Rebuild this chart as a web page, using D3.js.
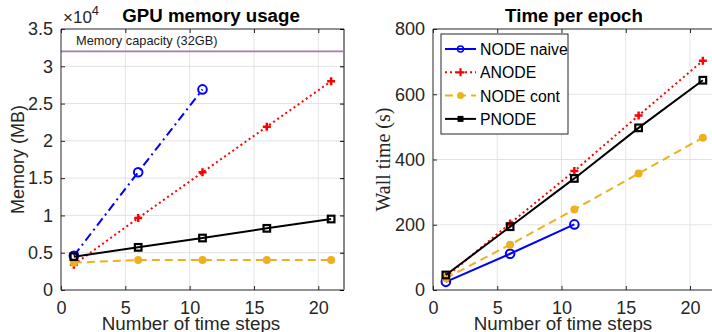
<!DOCTYPE html>
<html><head><meta charset="utf-8">
<script src="https://cdn.jsdelivr.net/npm/d3@7"></script>
<style>body{margin:0;background:#fff}svg{display:block}</style>
</head><body>
<svg id="c" width="712" height="332"></svg>
<script>
const steps = [1, 6, 11, 16, 21];
const seriesNames = ["NODE naive", "ANODE", "NODE cont", "PNODE"];
// Memory (MB)
const memNaive = [4600, 15800, 26900];
const memAnode = [3400, 9650, 15780, 21900, 28000];
const memCont  = [3660, 4020, 4020, 4020, 4020];
const memPnode = [4470, 5720, 6970, 8270, 9520];
const memCapacity = 32000;
// Wall time (s)
const timeNaive = [25, 111, 201];
const timeAnode = [40, 204, 365, 535, 703];
const timeCont  = [36, 139, 247, 357, 467];
const timePnode = [46, 194, 342, 497, 643];
const xTicks = [0, 5, 10, 15, 20];
const memTicks = [0, 5000, 10000, 15000, 20000, 25000, 30000, 35000];
const memTickLabels = ["0", "0.5", "1", "1.5", "2", "2.5", "3", "3.5"];
const timeTicks = [0, 200, 400, 600, 800];

const svg = d3.select("#c");
const font = "'Liberation Sans', Arial, Helvetica, sans-serif";
const colors = {naive: "#0000ff", anode: "#ff0000", cont: "#EDB120", pnode: "#000000"};

function drawMarker(g, type, x, y, color) {
  if (type === "circle") {
    g.append("circle").attr("cx", x).attr("cy", y).attr("r", 4.3)
      .attr("fill", "none").attr("stroke", color).attr("stroke-width", 2);
  } else if (type === "dot") {
    g.append("circle").attr("cx", x).attr("cy", y).attr("r", 4)
      .attr("fill", color).attr("stroke", "none");
  } else if (type === "plus") {
    g.append("path").attr("d", `M${x-4},${y}H${x+4}M${x},${y-4}V${y+4}`)
      .attr("stroke", color).attr("stroke-width", 2.5).attr("fill", "none");
  } else if (type === "square") {
    g.append("rect").attr("x", x-3.3).attr("y", y-3.3).attr("width", 6.6).attr("height", 6.6)
      .attr("fill", "none").attr("stroke", color).attr("stroke-width", 2.2);
  }
}

function panel(opts) {
  const {x0, x1, y0, y1, yDomain, yTicks, yLabels, series, title, titleX, ylabel, ylabelX, ylabelFont, ylabelSize, clipRight} = opts;
  const x = d3.scaleLinear().domain([0, 22]).range([x0, x1]);
  const y = d3.scaleLinear().domain(yDomain).range([y1, y0]);
  const g = svg.append("g");
  // grid
  g.selectAll(".gx").data(xTicks.filter(t => t > 0)).join("line")
    .attr("x1", d => x(d)).attr("x2", d => x(d)).attr("y1", y0).attr("y2", y1)
    .attr("stroke", "#e3e3e3").attr("stroke-width", 1);
  g.selectAll(".gy").data(yTicks.filter(t => t > yDomain[0] && t < yDomain[1])).join("line")
    .attr("x1", x0).attr("x2", x1).attr("y1", d => y(d)).attr("y2", d => y(d))
    .attr("stroke", "#e3e3e3").attr("stroke-width", 1);
  if (opts.extra) opts.extra(g, x, y);
  // series
  const clipId = "clip" + x0;
  svg.append("clipPath").attr("id", clipId).append("rect")
    .attr("x", x0 - 10).attr("y", y0 - 10).attr("width", x1 - x0 + 20).attr("height", y1 - y0 + 20);
  const sg = g.append("g").attr("clip-path", `url(#${clipId})`);
  series.forEach(s => {
    const pts = s.values.map((v, i) => [x(steps[i]), y(v)]);
    sg.append("path").attr("d", d3.line()(pts)).attr("fill", "none")
      .attr("stroke", s.color).attr("stroke-width", s.width || 2)
      .attr("stroke-dasharray", s.dash || null);
    pts.forEach(p => drawMarker(sg, s.marker, p[0], p[1], s.color));
  });
  // box
  g.append("line").attr("x1", x0).attr("x2", x1).attr("y1", y0).attr("y2", y0).attr("stroke", "#262626").attr("stroke-width", 1);
  g.append("line").attr("x1", x0).attr("x2", x1).attr("y1", y1).attr("y2", y1).attr("stroke", "#262626").attr("stroke-width", 1);
  g.append("line").attr("x1", x0).attr("x2", x0).attr("y1", y0).attr("y2", y1).attr("stroke", "#262626").attr("stroke-width", 1);
  if (!clipRight) g.append("line").attr("x1", x1).attr("x2", x1).attr("y1", y0).attr("y2", y1).attr("stroke", "#888").attr("stroke-width", 2);
  // axes with d3
  const xa = g.append("g").attr("transform", `translate(0,${y1})`)
    .call(d3.axisBottom(x).tickValues(xTicks).tickSize(-4).tickPadding(11));
  xa.select(".domain").remove();
  const xat = g.append("g").attr("transform", `translate(0,${y0})`)
    .call(d3.axisTop(x).tickValues(xTicks).tickSize(-4).tickFormat(""));
  xat.select(".domain").remove();
  const ya = g.append("g").attr("transform", `translate(${x0},0)`)
    .call(d3.axisLeft(y).tickValues(yTicks).tickSize(-4).tickPadding(8)
      .tickFormat((d, i) => yLabels ? yLabels[i] : d));
  ya.select(".domain").remove();
  if (!clipRight) {
    const yr = g.append("g").attr("transform", `translate(${x1},0)`)
      .call(d3.axisRight(y).tickValues(yTicks).tickSize(-4).tickFormat(""));
    yr.select(".domain").remove();
  }
  [xa, xat, ya].forEach(a => {
    a.selectAll("line").attr("stroke", "#262626");
    a.selectAll("text").attr("font-family", font).attr("font-size", 18).attr("fill", "#262626");
  });
  // title
  g.append("text").attr("x", titleX).attr("y", 22).attr("text-anchor", "middle")
    .attr("font-family", font).attr("font-weight", "bold").attr("font-size", 18.7).attr("fill", "#000").text(title);
  // x label
  g.append("text").attr("x", x0 + 130).attr("y", 330).attr("text-anchor", "middle")
    .attr("font-family", font).attr("font-size", 18.8).attr("fill", "#262626").text("Number of time steps");
  // y label
  g.append("text").attr("transform", `translate(${ylabelX},${(y0 + y1) / 2}) rotate(-90)`)
    .attr("text-anchor", "middle").attr("font-family", ylabelFont).attr("font-size", ylabelSize).attr("fill", "#262626").text(ylabel);
  return {g, x, y};
}

const left = panel({
  x0: 61, x1: 344, y0: 29, y1: 290, yDomain: [0, 35000], yTicks: memTicks, yLabels: memTickLabels,
  title: "GPU memory usage", titleX: 211, ylabel: "Memory (MB)", ylabelX: 24, ylabelFont: font, ylabelSize: 18,
  extra: (g, x, y) => {
    g.append("line").attr("x1", x(0)).attr("x2", x(22)).attr("y1", y(memCapacity)).attr("y2", y(memCapacity))
      .attr("stroke", "#a678bb").attr("stroke-width", 1.6);
    g.append("text").attr("x", 76).attr("y", 45).attr("font-family", font).attr("font-size", 12.8)
      .attr("fill", "#1a1a1a").text("Memory capacity (32GB)");
  },
  series: [
    {values: memNaive, color: colors.naive, dash: "9,4,2,4", marker: "circle"},
    {values: memAnode, color: colors.anode, dash: "2,3", marker: "plus"},
    {values: memCont, color: colors.cont, dash: "8,5", marker: "dot"},
    {values: memPnode, color: colors.pnode, marker: "square"}
  ]
});
// exponent label
const ex = svg.append("text").attr("x", 63).attr("y", 23).attr("font-family", font).attr("font-size", 17).attr("fill", "#262626");
ex.append("tspan").text("\u00d710");
ex.append("tspan").attr("dy", -8).attr("font-size", 13).text("4");

const right = panel({
  x0: 433, x1: 715.7, y0: 29, y1: 290, yDomain: [0, 800], yTicks: timeTicks, yLabels: null,
  title: "Time per epoch", titleX: 574, ylabel: "Wall time (s)", ylabelX: 390, ylabelSize: 20,
  ylabelFont: "'Liberation Serif', 'DejaVu Serif', serif", clipRight: true,
  series: [
    {values: timeNaive, color: colors.naive, marker: "circle"},
    {values: timeAnode, color: colors.anode, dash: "2,3", marker: "plus"},
    {values: timeCont, color: colors.cont, dash: "8,5", marker: "dot"},
    {values: timePnode, color: colors.pnode, marker: "square"}
  ]
});

// legend
const lg = svg.append("g");
lg.append("rect").attr("x", 441).attr("y", 34).attr("width", 127).attr("height", 100)
  .attr("fill", "#fff").attr("stroke", "#262626").attr("stroke-width", 1);
const legendStyles = [
  {color: colors.naive, dash: null, marker: "circle"},
  {color: colors.anode, dash: "2,3", marker: "plus"},
  {color: colors.cont, dash: "8,5", marker: "dot"},
  {color: colors.pnode, dash: null, marker: "square"}
];
seriesNames.forEach((name, i) => {
  const yy = 49 + i * 23.3;
  const st = legendStyles[i];
  lg.append("line").attr("x1", 445).attr("x2", 476).attr("y1", yy).attr("y2", yy)
    .attr("stroke", st.color).attr("stroke-width", 2).attr("stroke-dasharray", st.dash);
  const mg = lg.append("g");
  if (st.marker === "circle") mg.append("circle").attr("cx", 460.5).attr("cy", yy).attr("r", 3).attr("fill", "none").attr("stroke", st.color).attr("stroke-width", 1.5);
  else if (st.marker === "dot") mg.append("circle").attr("cx", 460.5).attr("cy", yy).attr("r", 3.5).attr("fill", st.color);
  else if (st.marker === "plus") mg.append("path").attr("d", `M456.5,${yy}H464.5M460.5,${yy-4}V${yy+4}`).attr("stroke", st.color).attr("stroke-width", 2.2);
  else mg.append("rect").attr("x", 457.5).attr("y", yy - 3).attr("width", 6).attr("height", 6).attr("fill", st.color);
  lg.append("text").attr("x", 480).attr("y", yy + 6).attr("font-family", font).attr("font-size", 15.8)
    .attr("fill", "#000").text(name);
});
</script>
</body></html>
